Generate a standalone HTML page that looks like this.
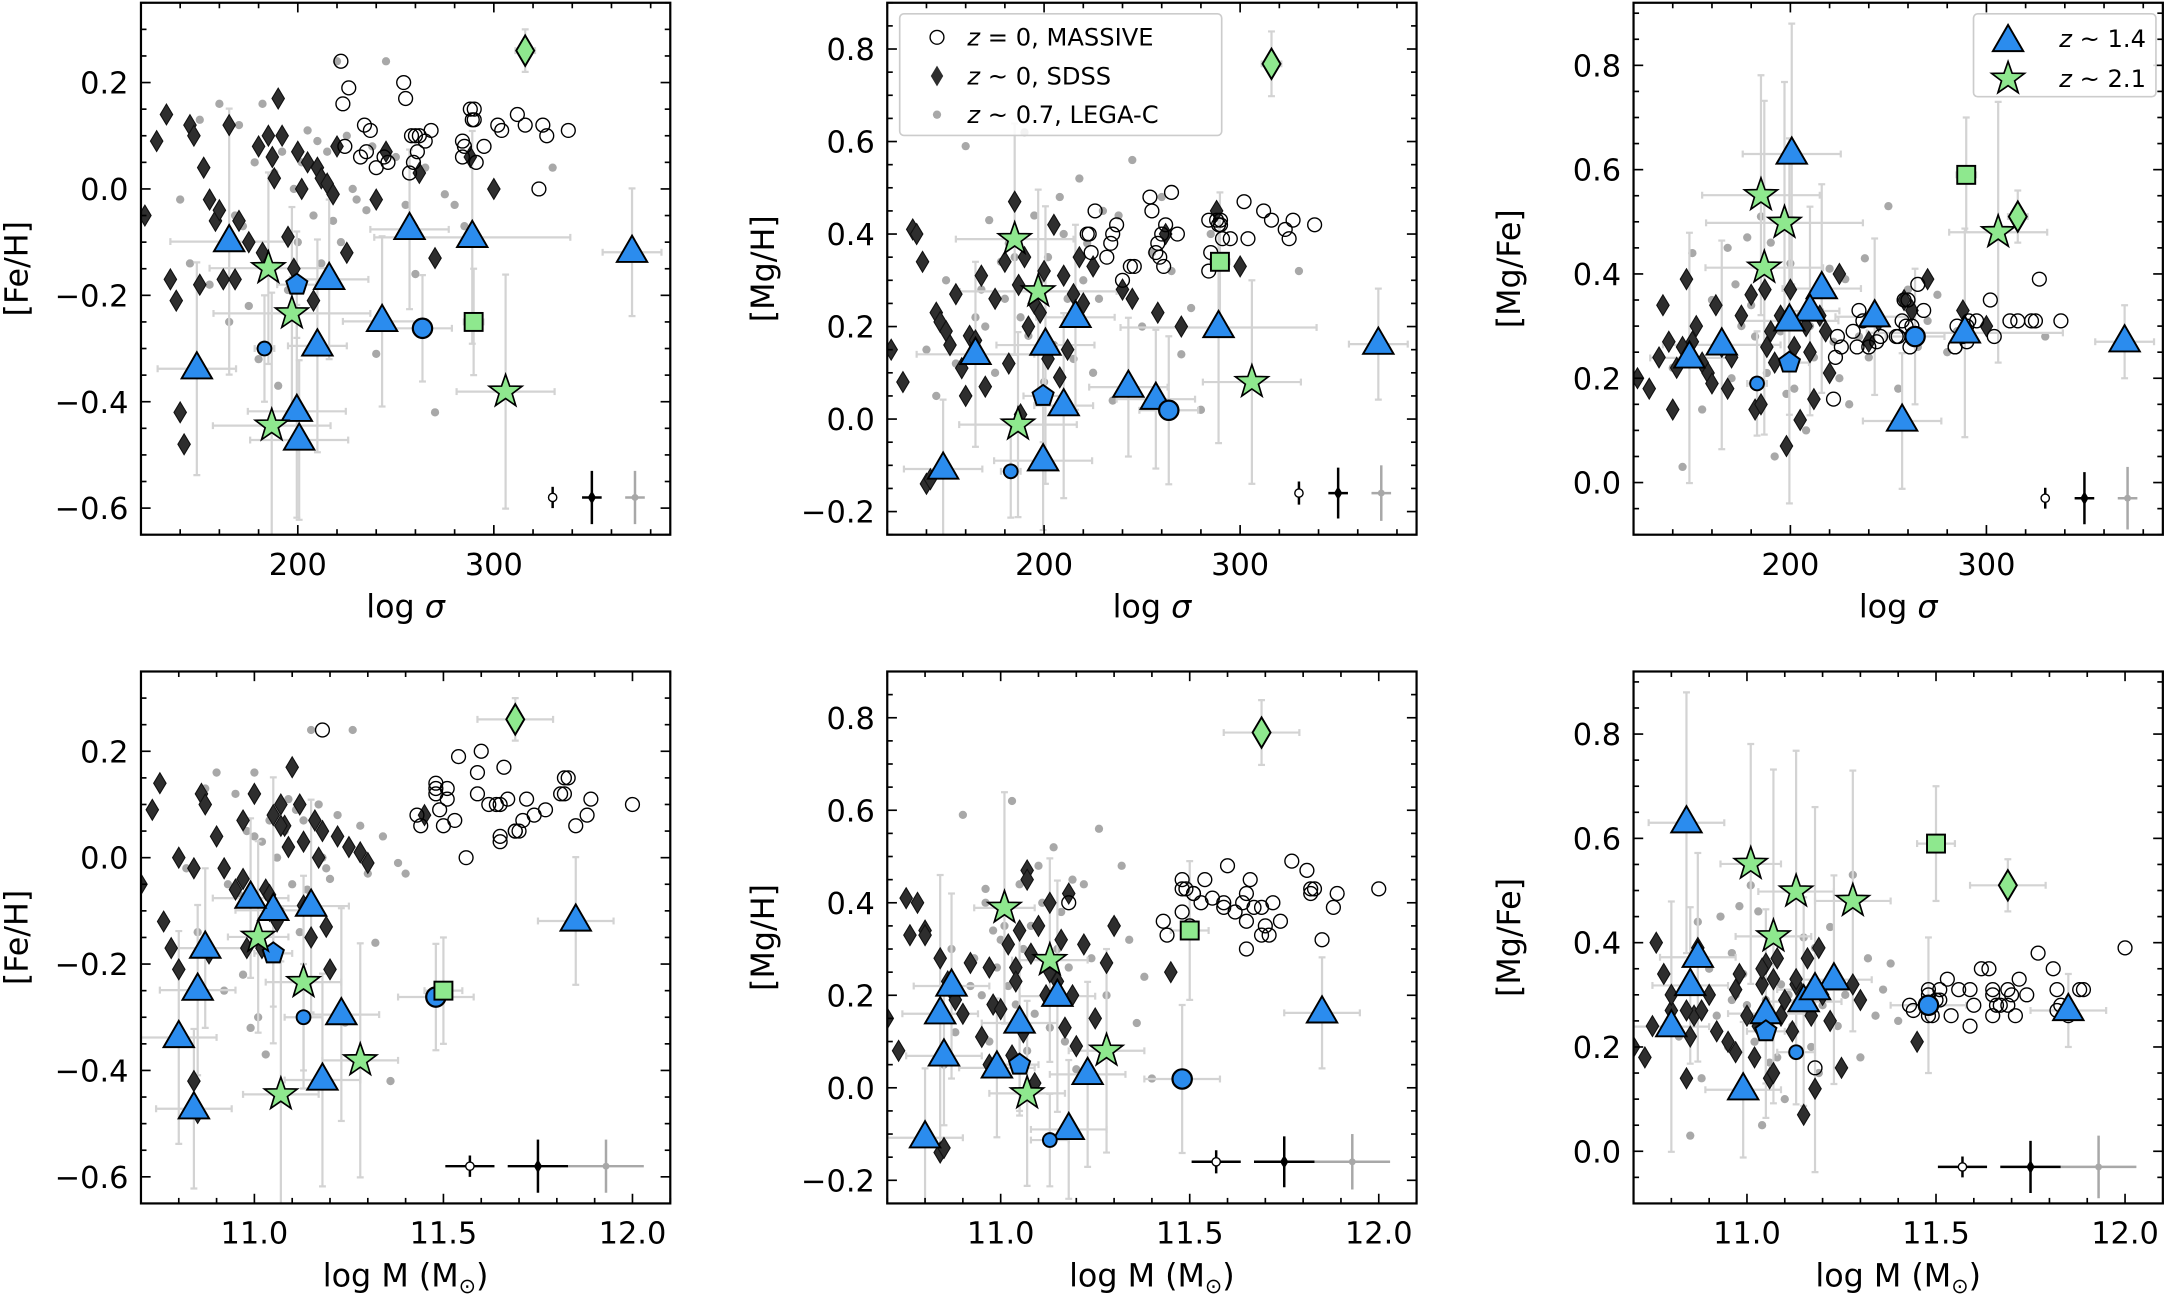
<!DOCTYPE html>
<html><head><meta charset="utf-8"><style>
html,body{margin:0;padding:0;background:#fff;}
svg{display:block;font-family:"DejaVu Sans","Liberation Sans",sans-serif;}
</style></head><body>
<svg id="fig" width="2167" height="1296" viewBox="0 0 1568 938" preserveAspectRatio="none" xmlns="http://www.w3.org/2000/svg"></svg>
<script>
// ---- highlighted sample: T1..T7, Ta, Tb, T10, pentagon, small circle, big circle, stars S1..S4, square, green diamond
const hiType = ['tri','tri','tri','tri','tri','tri','tri','tri','tri','tri','pent','circS','circL','star','star','star','star','square','gdiamond'];
const hiSigma = [165,148.5,216,210,257,289,243,200.7,199.5,370.5,199.5,183,263.6,185,197,186.7,306,289.7,316];
const hiMass = [11.05,10.80,10.87,11.23,10.99,11.15,10.85,10.84,11.18,11.85,11.05,11.13,11.48,11.01,11.13,11.07,11.28,11.50,11.69];
const hiFeH = [-0.099,-0.338,-0.17,-0.295,-0.076,-0.091,-0.249,-0.472,-0.418,-0.119,-0.18,-0.30,-0.262,-0.149,-0.234,-0.445,-0.381,-0.25,0.26];
const hiMgH = [0.14,-0.108,0.22,0.029,0.043,0.198,0.069,0.16,-0.09,0.162,0.05,-0.113,0.019,0.389,0.276,-0.012,0.08,0.34,0.768];
const hiMgFe = [0.264,0.239,0.372,0.329,0.118,0.287,0.318,0.63,0.31,0.27,0.23,0.19,0.28,0.551,0.498,0.412,0.48,0.59,0.51];
const errSigma = [30,20,20,15,20,50,20,25,25,15,10,5,15,30,40,30,25,5,5];
const errMass = [0.1,0.1,0.1,0.1,0.1,0.1,0.1,0.1,0.1,0.1,0.05,0.05,0.1,0.08,0.1,0.1,0.1,0.05,0.1];
const errFeH = [0.25,0.2,0.15,0.2,0.15,0.2,0.16,0.15,0.2,0.12,0.1,0.1,0.1,0.18,0.2,0.25,0.22,0.1,0.04];
const errMgH = [0.2,0.15,0.2,0.2,0.15,0.25,0.15,0.3,0.15,0.12,0.1,0.1,0.16,0.25,0.22,0.2,0.22,0.15,0.07];
const errMgFe = [0.2,0.24,0.2,0.2,0.13,0.2,0.15,0.25,0.35,0.07,0.1,0.1,0.13,0.23,0.27,0.32,0.25,0.11,0.05];

// ---- MASSIVE (open circles)
const circSigma = [222,226,223,254,255,234,237,224,232,235,240,244,246,258,260,262,265,259,261,257,268,284,285,284,288,290,289,290,291,295,302,304,312,316,325,327,338,323];
const circMass = [11.18,11.54,11.59,11.60,11.66,11.48,11.51,11.43,11.50,11.53,11.65,11.44,11.69,11.62,11.64,11.65,11.77,11.70,11.71,11.65,11.72,11.49,11.74,11.85,11.83,11.82,11.51,11.48,11.69,11.88,11.81,11.67,11.48,11.82,11.59,12.00,11.89,11.56];
const circFeH = [0.24,0.19,0.16,0.20,0.17,0.12,0.11,0.08,0.06,0.07,0.04,0.06,0.05,0.10,0.10,0.10,0.09,0.05,0.07,0.03,0.11,0.09,0.08,0.06,0.15,0.15,0.13,0.13,0.05,0.08,0.12,0.11,0.14,0.12,0.12,0.10,0.11,0.00];
const circMgH = [0.40,0.45,0.40,0.48,0.45,0.38,0.42,0.36,0.35,0.40,0.30,0.33,0.33,0.38,0.40,0.42,0.49,0.35,0.33,0.36,0.40,0.43,0.36,0.32,0.43,0.42,0.42,0.43,0.39,0.39,0.47,0.39,0.45,0.43,0.39,0.43,0.42,0.41];
const circMgFe = [0.16,0.26,0.24,0.28,0.28,0.26,0.31,0.28,0.29,0.33,0.26,0.27,0.28,0.35,0.35,0.30,0.38,0.30,0.26,0.31,0.33,0.26,0.30,0.26,0.28,0.27,0.29,0.30,0.31,0.31,0.35,0.28,0.31,0.31,0.31,0.39,0.31,0.31];

// ---- SDSS (dark diamonds)
const diaSigma = [122,128,133,135,138,140,142,145,147,150,152,155,158,160,162,165,168,170,175,180,182,185,187,188,190,192,195,198,200,202,205,208,210,212,215,218,220,225,240,245,258,262,270,288,300];
const diaMass = [10.70,10.73,10.75,10.78,10.80,10.84,10.85,10.86,10.87,10.88,10.90,10.92,10.95,10.97,10.98,11.00,11.02,11.03,11.04,11.05,11.06,11.07,11.08,11.09,11.10,11.12,11.13,11.15,11.16,11.17,11.18,11.20,11.22,11.25,11.28,11.30,11.45,10.76,10.84,10.97,11.04,11.13,11.19,11.07,10.80];
const diaFeH = [-0.05,0.09,0.14,-0.17,-0.21,-0.42,-0.48,0.12,0.10,-0.18,0.04,-0.02,-0.06,-0.04,-0.17,0.12,-0.17,-0.06,-0.10,0.08,-0.12,0.10,0.06,0.02,0.17,0.10,-0.09,-0.15,0.07,0.00,0.05,-0.21,0.04,0.02,0.01,-0.01,0.08,-0.12,-0.02,0.07,-0.07,0.03,-0.13,0.06,0.00];
const diaMgH = [0.15,0.08,0.41,0.40,0.34,-0.14,-0.13,0.23,0.21,0.19,0.16,0.27,0.11,0.05,0.18,0.17,0.31,0.07,0.26,0.34,0.12,0.47,0.29,0.01,0.35,0.20,0.25,0.23,0.32,0.13,0.42,0.09,0.31,0.15,0.27,0.35,0.25,0.33,0.28,0.26,0.23,0.40,0.20,0.45,0.33];
const diaMgFe = [0.20,0.18,0.24,0.34,0.27,0.14,0.22,0.26,0.39,0.27,0.30,0.23,0.21,0.19,0.34,0.26,0.18,0.24,0.32,0.36,0.14,0.15,0.37,0.26,0.29,0.23,0.32,0.07,0.37,0.26,0.12,0.30,0.25,0.16,0.32,0.29,0.21,0.40,0.27,0.31,0.35,0.33,0.39,0.33,0.30];

// ---- LEGA-C (grey dots)
const dotSigma = [140,145,150,155,160,165,168,170,172,175,178,180,182,185,188,190,192,195,198,200,202,205,208,210,212,215,218,220,222,225,228,230,235,238,240,245,250,255,260,265,270,275,280,285,330];
const dotMass = [10.82,10.85,10.87,10.88,10.90,10.92,10.93,10.95,10.96,10.97,10.98,10.99,11.00,11.01,11.02,11.03,11.04,11.05,11.06,11.07,11.08,11.09,11.10,11.11,11.12,11.13,11.14,11.15,11.16,11.17,11.18,11.19,11.20,11.22,11.24,11.26,11.28,11.30,11.32,11.34,11.36,11.38,11.40,10.96,11.00];
const dotFeH = [-0.02,-0.14,0.13,-0.18,0.16,-0.25,-0.05,0.12,-0.07,-0.22,0.05,-0.32,0.16,-0.30,0.03,-0.37,0.07,-0.19,0.00,-0.10,0.05,0.11,-0.05,0.09,-0.14,0.07,-0.06,0.24,-0.10,0.10,0.00,-0.02,-0.04,0.08,-0.31,0.24,0.06,-0.03,-0.16,0.04,-0.42,-0.01,-0.03,-0.07,0.04];
const dotMgH = [0.15,0.05,0.30,0.12,0.59,0.22,0.28,0.20,0.43,0.10,0.34,0.26,0.38,0.35,0.22,0.62,0.18,0.44,0.30,0.08,0.35,0.16,0.48,0.40,0.26,0.13,0.52,0.30,0.38,0.10,0.26,0.45,0.04,0.44,0.28,0.56,0.20,0.36,0.48,0.32,0.14,0.24,0.02,0.40,0.32];
const dotMgFe = [0.22,0.03,0.44,0.14,0.35,0.26,0.45,0.20,0.38,0.30,0.47,0.34,0.28,0.51,0.21,0.46,0.05,0.29,0.17,0.42,0.18,0.32,0.10,0.30,0.24,0.33,0.29,0.41,0.27,0.20,0.39,0.15,0.28,0.43,0.24,0.30,0.53,0.18,0.37,0.26,0.31,0.36,0.25,0.29,0.28];

// ---- tick labels
const sigmaTicks = [200,300];
const massTicks = [11.0,11.5,12.0];
const fehTicks = [-0.6,-0.4,-0.2,0.0,0.2];
const mghTicks = [-0.2,0.0,0.2,0.4,0.6,0.8];
const mgfeTicks = [0.0,0.2,0.4,0.6,0.8];

const NS = 'http://www.w3.org/2000/svg';
const svg = document.getElementById('fig');
function mk(tag, attrs, parent) {
  const e = document.createElementNS(NS, tag);
  for (const k in attrs) e.setAttribute(k, attrs[k]);
  (parent || svg).appendChild(e);
  return e;
}

const cols = [102, 642, 1182];
const rows = [2, 486];
const PW = 383, PH = 385;
const xDefs = {
  sigma: {min:120, max:390, ticks:sigmaTicks, minor:20, fmt:v=>String(v), vals:{hi:hiSigma, circ:circSigma, dia:diaSigma, dot:dotSigma}, err:errSigma, corner:[330,350,372], cornerErr:[0,5,5]},
  mass: {min:10.7, max:12.1, ticks:massTicks, minor:0.1, fmt:v=>v.toFixed(1), vals:{hi:hiMass, circ:circMass, dia:diaMass, dot:dotMass}, err:errMass, corner:[11.57,11.75,11.93], cornerErr:[0.065,0.08,0.1]}
};
const yDefs = {
  feh: {min:-0.65, max:0.35, ticks:fehTicks, minor:0.05, label:'[Fe/H]', vals:{hi:hiFeH, circ:circFeH, dia:diaFeH, dot:dotFeH}, err:errFeH, corner:-0.58, cornerErr:[0.02,0.05,0.05]},
  mgh: {min:-0.25, max:0.9, ticks:mghTicks, minor:0.05, label:'[Mg/H]', vals:{hi:hiMgH, circ:circMgH, dia:diaMgH, dot:dotMgH}, err:errMgH, corner:-0.16, cornerErr:[0.025,0.055,0.06]},
  mgfe: {min:-0.1, max:0.92, ticks:mgfeTicks, minor:0.05, label:'[Mg/Fe]', vals:{hi:hiMgFe, circ:circMgFe, dia:diaMgFe, dot:dotMgFe}, err:errMgFe, corner:-0.03, cornerErr:[0.02,0.05,0.06]}
};
const panels = [
  {x:'sigma', y:'feh', c:0, r:0, name:'panel-feh-vs-sigma'},
  {x:'sigma', y:'mgh', c:1, r:0, name:'panel-mgh-vs-sigma'},
  {x:'sigma', y:'mgfe', c:2, r:0, name:'panel-mgfe-vs-sigma'},
  {x:'mass', y:'feh', c:0, r:1, name:'panel-feh-vs-mass'},
  {x:'mass', y:'mgh', c:1, r:1, name:'panel-mgh-vs-mass'},
  {x:'mass', y:'mgfe', c:2, r:1, name:'panel-mgfe-vs-mass'}
];

function marker(g, type, cx, cy) {
  let e;
  const blue = '#2b8cee', green = '#8ee88e';
  if (type === 'tri') {
    e = mk('polygon', {points:`${cx},${cy-12} ${cx-11},${cy+7} ${cx+11},${cy+7}`, fill:blue, stroke:'#000', 'stroke-width':1.4}, g);
  } else if (type === 'star') {
    let p = [];
    for (let k = 0; k < 10; k++) {
      const r = k % 2 ? 5 : 12.5;
      const a = -Math.PI/2 + k*Math.PI/5;
      p.push((cx + r*Math.cos(a)).toFixed(2) + ',' + (cy + r*Math.sin(a)).toFixed(2));
    }
    e = mk('polygon', {points:p.join(' '), fill:green, stroke:'#000', 'stroke-width':1.2}, g);
  } else if (type === 'pent') {
    let p = [];
    for (let k = 0; k < 5; k++) {
      const a = -Math.PI/2 + k*2*Math.PI/5;
      p.push((cx + 8*Math.cos(a)).toFixed(2) + ',' + (cy + 8*Math.sin(a)).toFixed(2));
    }
    e = mk('polygon', {points:p.join(' '), fill:blue, stroke:'#000', 'stroke-width':1.4}, g);
  } else if (type === 'circS') {
    e = mk('circle', {cx, cy, r:5, fill:blue, stroke:'#000', 'stroke-width':1.4}, g);
  } else if (type === 'circL') {
    e = mk('circle', {cx, cy, r:7, fill:blue, stroke:'#000', 'stroke-width':1.6}, g);
  } else if (type === 'square') {
    e = mk('rect', {x:cx-6.5, y:cy-6.5, width:13, height:13, fill:green, stroke:'#000', 'stroke-width':1.4}, g);
  } else if (type === 'gdiamond') {
    e = mk('polygon', {points:`${cx},${cy-11} ${cx+6.5},${cy} ${cx},${cy+11} ${cx-6.5},${cy}`, fill:green, stroke:'#000', 'stroke-width':1.4}, g);
  }
  return e;
}
function errbar(g, x1, y1, x2, y2, horiz, color, w, cap) {
  mk('line', {x1, y1, x2, y2, stroke:color, 'stroke-width':w}, g);
  if (cap) {
    if (horiz) {
      mk('line', {x1:x1, y1:y1-2.5, x2:x1, y2:y1+2.5, stroke:color, 'stroke-width':w}, g);
      mk('line', {x1:x2, y1:y2-2.5, x2:x2, y2:y2+2.5, stroke:color, 'stroke-width':w}, g);
    } else {
      mk('line', {x1:x1-2.5, y1:y1, x2:x1+2.5, y2:y1, stroke:color, 'stroke-width':w}, g);
      mk('line', {x1:x2-2.5, y1:y2, x2:x2+2.5, y2:y2, stroke:color, 'stroke-width':w}, g);
    }
  }
}

panels.forEach(p => {
  const X = xDefs[p.x], Y = yDefs[p.y];
  const L = cols[p.c], T = rows[p.r];
  const sx = v => L + (v - X.min) / (X.max - X.min) * PW;
  const sy = v => T + PH - (v - Y.min) / (Y.max - Y.min) * PH;
  const g = mk('g', {});
  
  
  const clipId = 'clip' + p.c + p.r;
  const cp = mk('clipPath', {id:clipId}, g);
  mk('rect', {x:L, y:T, width:PW, height:PH}, cp);
  const data = mk('g', {'clip-path':`url(#${clipId})`}, g);

  for (let i = 0; i < Math.min(X.vals.dot.length, Y.vals.dot.length); i++) {
    const d = mk('circle', {cx:sx(X.vals.dot[i]), cy:sy(Y.vals.dot[i]), r:3, fill:'#a8a8a8'}, data);
    
    
  }
  const eg = mk('g', {}, data);
  
  
  for (let i = 0; i < hiType.length; i++) {
    const x = X.vals.hi[i], y = Y.vals.hi[i];
    errbar(eg, sx(x - X.err[i]), sy(y), sx(x + X.err[i]), sy(y), true, '#d3d3d3', 1.6, true);
    errbar(eg, sx(x), sy(y - Y.err[i]), sx(x), sy(y + Y.err[i]), false, '#d3d3d3', 1.6, true);
  }
  for (let i = 0; i < Math.min(X.vals.dia.length, Y.vals.dia.length); i++) {
    const cx = sx(X.vals.dia[i]), cy = sy(Y.vals.dia[i]);
    const d = mk('polygon', {points:`${cx},${cy-7.5} ${cx+4.5},${cy} ${cx},${cy+7.5} ${cx-4.5},${cy}`, fill:'#2e2e2e', stroke:'#111', 'stroke-width':0.8}, data);
    
    
  }
  for (let i = 0; i < Math.min(X.vals.circ.length, Y.vals.circ.length); i++) {
    const d = mk('circle', {cx:sx(X.vals.circ[i]), cy:sy(Y.vals.circ[i]), r:5, fill:'none', stroke:'#000', 'stroke-width':1}, data);
    
    
  }
  for (let i = 0; i < hiType.length; i++) {
    const m = marker(data, hiType[i], sx(X.vals.hi[i]), sy(Y.vals.hi[i]));
    
    
  }
  const cg = mk('g', {}, data);
  
  
  const cc = ['#000', '#000', '#a8a8a8'];
  for (let k = 0; k < 3; k++) {
    const cx = sx(X.corner[k]), cy = sy(Y.corner);
    if (X.cornerErr[k] > 0) errbar(cg, sx(X.corner[k] - X.cornerErr[k]), cy, sx(X.corner[k] + X.cornerErr[k]), cy, true, cc[k], 1.8, false);
    errbar(cg, cx, sy(Y.corner - Y.cornerErr[k]), cx, sy(Y.corner + Y.cornerErr[k]), false, cc[k], 1.8, false);
    if (k === 0) mk('circle', {cx, cy, r:3, fill:'#fff', stroke:'#000', 'stroke-width':1}, cg);
    else if (k === 1) mk('polygon', {points:`${cx},${cy-5} ${cx+3},${cy} ${cx},${cy+5} ${cx-3},${cy}`, fill:'#000'}, cg);
    else mk('circle', {cx, cy, r:2.5, fill:'#a8a8a8'}, cg);
  }

  const fr = mk('rect', {x:L, y:T, width:PW, height:PH, fill:'none', stroke:'#000', 'stroke-width':1.6}, g);
  
  

  const tg = mk('g', {stroke:'#000', 'stroke-width':1.2}, g);
  
  
  for (let v = Math.ceil(X.min / X.minor - 1e-6) * X.minor; v <= X.max + 1e-9; v += X.minor) {
    const x = sx(v);
    const major = X.ticks.some(t => Math.abs(t - v) < 1e-6);
    const len = major ? 7 : 4;
    mk('line', {x1:x, y1:T+PH, x2:x, y2:T+PH-len}, tg);
    mk('line', {x1:x, y1:T, x2:x, y2:T+len}, tg);
  }
  for (let v = Math.ceil(Y.min / Y.minor - 1e-6) * Y.minor; v <= Y.max + 1e-9; v += Y.minor) {
    const y = sy(v);
    const major = Y.ticks.some(t => Math.abs(t - v) < 1e-6);
    const len = major ? 7 : 4;
    mk('line', {x1:L, y1:y, x2:L+len, y2:y}, tg);
    mk('line', {x1:L+PW, y1:y, x2:L+PW-len, y2:y}, tg);
  }
  X.ticks.forEach(v => {
    const t = mk('text', {x:sx(v), y:T+PH+29, 'text-anchor':'middle', 'font-size':22, fill:'#000'}, g);
    t.textContent = X.fmt(v);
    
    
  });
  Y.ticks.forEach(v => {
    const t = mk('text', {x:L-9, y:sy(v)+8, 'text-anchor':'end', 'font-size':22, fill:'#000'}, g);
    t.textContent = (v < 0 ? '\u2212' + Math.abs(v).toFixed(1) : v.toFixed(1));
    
    
  });
  const xl = mk('text', {x:L+PW/2, y:T+PH+60, 'text-anchor':'middle', 'font-size':23, fill:'#000'}, g);
  
  
  if (p.x === 'sigma') {
    xl.textContent = 'log ';
    const ts = mk('tspan', {'font-style':'italic'}, xl); ts.textContent = 'σ';
  } else {
    xl.textContent = 'log M (M';
    const ts = mk('tspan', {'font-size':15, dy:5}, xl); ts.textContent = '⊙';
    const ts2 = mk('tspan', {dy:-5}, xl); ts2.textContent = ')';
  }
  const yx = L - 82, yy = T + PH/2;
  const yl = mk('text', {x:yx, y:yy, 'text-anchor':'middle', 'font-size':23, fill:'#000', transform:`rotate(-90 ${yx} ${yy})`}, g);
  yl.textContent = Y.label;
  
  
});

const lg1 = mk('g', {});


mk('rect', {x:651, y:10, width:233, height:88, rx:3, fill:'#fff', 'fill-opacity':0.85, stroke:'#cccccc', 'stroke-width':1.2}, lg1);
mk('circle', {cx:678, cy:27, r:5, fill:'none', stroke:'#000', 'stroke-width':1}, lg1);
mk('polygon', {points:'678,47.5 682.5,55 678,62.5 673.5,55', fill:'#2e2e2e'}, lg1);
mk('circle', {cx:678, cy:83, r:3, fill:'#a8a8a8'}, lg1);
[['z',' = 0, MASSIVE',33],['z',' ~ 0, SDSS',61],['z',' ~ 0.7, LEGA-C',89]].forEach(r => {
  const t = mk('text', {x:700, y:r[2], 'font-size':17.5, fill:'#000'}, lg1);
  const a = mk('tspan', {'font-style':'italic'}, t); a.textContent = r[0];
  const b = mk('tspan', {}, t); b.textContent = r[1];
  
  
});
const lg2 = mk('g', {});


mk('rect', {x:1428, y:10, width:132, height:60, rx:3, fill:'#fff', 'fill-opacity':0.85, stroke:'#cccccc', 'stroke-width':1.2}, lg2);
marker(lg2, 'tri', 1453, 30);
marker(lg2, 'star', 1453, 57);
[['z',' ~ 1.4',34],['z',' ~ 2.1',63]].forEach(r => {
  const t = mk('text', {x:1490, y:r[2], 'font-size':17.5, fill:'#000'}, lg2);
  const a = mk('tspan', {'font-style':'italic'}, t); a.textContent = r[0];
  const b = mk('tspan', {}, t); b.textContent = r[1];
  
  
});
</script>
</body></html>
